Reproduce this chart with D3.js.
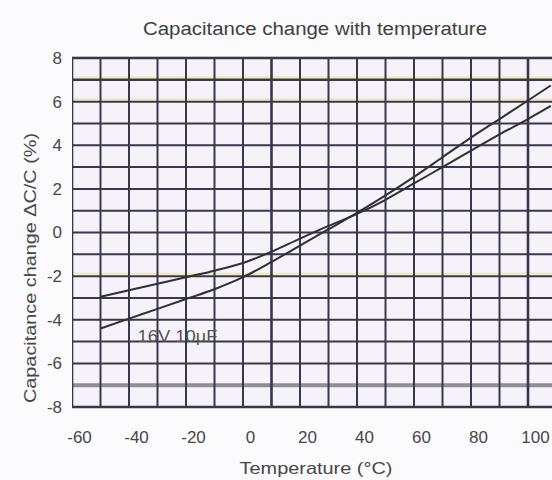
<!DOCTYPE html>
<html>
<head>
<meta charset="utf-8">
<script src="https://cdn.jsdelivr.net/npm/d3@7"></script>
<style>
body { margin: 0; background: #fbfafd; }
text { font-family: "Liberation Sans", Arial, sans-serif; fill: #474747; }
</style>
</head>
<body>
<svg width="552" height="480"></svg>
<script>
let temps = [-50, -40, -30, -20, -10, 0, 10, 20, 30, 40, 50, 60, 70, 80, 90, 100, 108];
// steeper curve (labelled 16V 10uF)
let capA = [-4.4, -3.95, -3.5, -3.05, -2.6, -2.05, -1.35, -0.6, 0.15, 0.9, 1.7, 2.55, 3.45, 4.35, 5.2, 6.05, 6.74];
// flatter curve
let capB = [-2.95, -2.65, -2.35, -2.05, -1.75, -1.4, -0.88, -0.28, 0.3, 0.85, 1.5, 2.25, 3.0, 3.75, 4.5, 5.2, 5.8];

let xTicks = [-60, -40, -20, 0, 20, 40, 60, 80, 100];
let yTicks = [-8, -6, -4, -2, 0, 2, 4, 6, 8];
let title = "Capacitance change with temperature";
let xTitle = "Temperature (\u00B0C)";
let yTitle = "Capacitance change \u0394C/C (%)";
let curveLabel = "16V 10\u00B5F";

let svg = d3.select("svg");
let W = +svg.attr("width");

let x = d3.scaleLinear().domain([-60, 100]).range([72, 528]);
let y = d3.scaleLinear().domain([-8, 8]).range([407, 58]);
let plotLeft = x(-60), plotRight = W, plotTop = y(8), plotBottom = y(-8);

svg.append("defs").append("clipPath").attr("id", "clip")
  .append("rect")
  .attr("x", plotLeft).attr("y", plotTop - 2)
  .attr("width", plotRight - plotLeft).attr("height", plotBottom - plotTop + 4);

// paper
svg.append("rect")
  .attr("x", plotLeft).attr("y", plotTop)
  .attr("width", plotRight - plotLeft).attr("height", plotBottom - plotTop)
  .attr("fill", "#f5f3f9");

let grid = svg.append("g").attr("clip-path", "url(#clip)");

// faint yellow streaks from the scan
grid.selectAll(".yel")
  .data([8, 7, 6, -2])
  .enter().append("line")
  .attr("x1", plotLeft).attr("x2", plotRight)
  .attr("y1", d => y(d) - 2.5).attr("y2", d => y(d) - 2.5)
  .attr("stroke", "#eeebb4").attr("stroke-width", 2);

grid.selectAll(".hline")
  .data(y.ticks(16))
  .enter().append("line")
  .attr("x1", plotLeft).attr("x2", plotRight)
  .attr("y1", d => y(d)).attr("y2", d => y(d))
  .attr("stroke", d => d === -7 ? "#8e8e96" : "#38384a")
  .attr("stroke-width", d => d === -7 ? 4 : (d === 7 || Math.abs(d) === 8 ? 2.6 : 2));

grid.selectAll(".vline")
  .data(x.ticks(16))
  .enter().append("line")
  .attr("x1", d => x(d)).attr("x2", d => x(d))
  .attr("y1", plotTop).attr("y2", plotBottom)
  .attr("stroke", "#38384a")
  .attr("stroke-width", d => (d === 10 || d === 100 || d === -60) ? 2.6 : 2);

// curves
let line = d3.line()
  .x((d, i) => x(temps[i]))
  .y(d => y(d))
  .curve(d3.curveMonotoneX);

let curves = svg.append("g").attr("clip-path", "url(#clip)");
[capA, capB].forEach(s => {
  curves.append("path")
    .attr("d", line(s))
    .attr("fill", "none")
    .attr("stroke", "#2f2f34")
    .attr("stroke-width", 2);
});

svg.append("text")
  .attr("x", x(-37)).attr("y", y(-5))
  .attr("font-size", 17)
  .attr("textLength", 80).attr("lengthAdjust", "spacingAndGlyphs")
  .style("fill", "#555")
  .text(curveLabel);

// axes (plain hyphen minus like the original)
let fmt = d => String(d);

let xAxis = svg.append("g")
  .attr("transform", "translate(0," + plotBottom + ")")
  .call(d3.axisBottom(x).tickValues(xTicks).tickFormat(fmt).tickSize(0).tickPadding(24));
xAxis.select(".domain").remove();
xAxis.selectAll("text").attr("font-size", 17).attr("dx", 7).style("fill", "#474747");

let yAxis = svg.append("g")
  .attr("transform", "translate(" + plotLeft + ",0)")
  .call(d3.axisLeft(y).tickValues(yTicks).tickFormat(fmt).tickSize(0).tickPadding(10));
yAxis.select(".domain").remove();
yAxis.selectAll("text").attr("font-size", 17).style("fill", "#474747");
svg.selectAll(".tick text").attr("font-family", "Liberation Sans, Arial, sans-serif");

// titles
svg.append("text")
  .attr("x", 315).attr("y", 35)
  .attr("text-anchor", "middle")
  .attr("font-size", 18)
  .attr("textLength", 344).attr("lengthAdjust", "spacingAndGlyphs")
  .style("fill", "#3f3f3f")
  .text(title);

svg.append("text")
  .attr("x", 316).attr("y", 474)
  .attr("text-anchor", "middle")
  .attr("font-size", 17)
  .attr("textLength", 153).attr("lengthAdjust", "spacingAndGlyphs")
  .text(xTitle);

svg.append("text")
  .attr("transform", "translate(36,268) rotate(-90)")
  .attr("text-anchor", "middle")
  .attr("font-size", 17)
  .attr("textLength", 270).attr("lengthAdjust", "spacingAndGlyphs")
  .text(yTitle);
</script>
</body>
</html>
